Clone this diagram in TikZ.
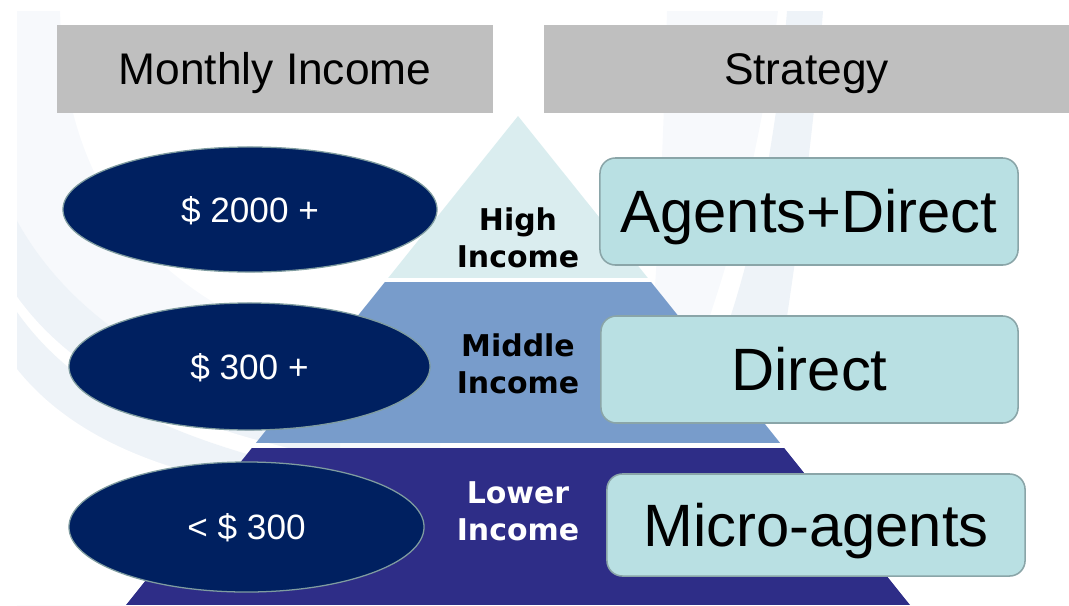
\documentclass[tikz,border=0pt]{standalone}
\usepackage{fontspec}
\setmainfont{Liberation Sans}
\newfontfamily\tierfont{DejaVu Sans}
\usetikzlibrary{shapes.geometric}

\definecolor{headgray}{HTML}{BFBFBF}
\definecolor{ovalnavy}{HTML}{002060}
\definecolor{ovalrim}{HTML}{7F9CA0}
\definecolor{tierhigh}{HTML}{DAEDEF}
\definecolor{tiermid}{HTML}{789CCB}
\definecolor{tierlow}{HTML}{2E2D87}
\definecolor{stratfill}{HTML}{B9E0E3}
\definecolor{stratrim}{HTML}{8AA5A8}
\definecolor{swooshpale}{HTML}{F7F9FC}
\definecolor{swooshband}{HTML}{EEF3F8}

\tikzset{
  headbox/.style={fill=headgray, inner sep=0pt, font=\fontsize{31.5}{36}\selectfont,
    text height=22.5pt, text depth=0pt},
  incomeoval/.style={ellipse, fill=ovalnavy, draw=ovalrim, line width=0.9pt, inner sep=0pt,
    text=white, font=\fontsize{25}{29}\selectfont, text height=17.8pt, text depth=0pt},
  strategybox/.style={rectangle, rounded corners=11pt, fill=stratfill, draw=stratrim,
    line width=1.1pt, inner sep=0pt, font=\fontsize{42.5}{48}\selectfont,
    text height=30.4pt, text depth=0pt},
  tierlabel/.style={align=center, inner sep=0pt, text depth=0pt,
    font=\tierfont\bfseries\fontsize{21.3}{26.3}\selectfont},
}

\begin{document}
\begin{tikzpicture}[x=0.025cm, y=-0.025cm]
    \useasboundingbox (0,0) rectangle (1069,605);

    % faint swooshes behind everything
    \begin{scope}
        \clip (17,11) rectangle (823,605);
        \fill[swooshpale] (0,0) -- (60,0) .. controls (60,250) and (220,340) .. (440,380) -- (440,605) -- (0,605) -- cycle;
        \fill[swooshband] (0,185) .. controls (50,310) and (170,385) .. (340,425) -- (340,605) -- (0,605) -- cycle;
        \fill[white] (0,270) .. controls (50,360) and (150,420) .. (320,455) -- (320,605) -- (0,605) -- cycle;
        \fill[swooshband] (0,285) .. controls (50,375) and (140,430) .. (300,468) -- (300,605) -- (0,605) -- cycle;
        \fill[white] (0,345) .. controls (40,410) and (110,455) .. (220,480) -- (220,605) -- (0,605) -- cycle;
        \fill[swooshpale] (667,11) -- (778,11) .. controls (765,120) and (740,230) .. (705,330)
            -- (652,330) .. controls (660,220) and (664,120) .. (667,11) -- cycle;
        \fill[swooshband] (787,11) -- (823,11) .. controls (815,120) and (800,230) .. (785,330)
            -- (726,330) .. controls (760,230) and (778,120) .. (787,11) -- cycle;
    \end{scope}

    % column headers
    \node[headbox, minimum width=10.9cm, minimum height=2.2cm] (income) at (275,69) {Monthly Income};
    \node[headbox, minimum width=13.125cm, minimum height=2.2cm] (strategy) at (806.5,69) {Strategy};

    % pyramid
    \coordinate (apex) at (518,116);
    \begin{scope}
        \clip (apex) -- (126,605) -- (910,605) -- cycle;
        \fill[tierhigh] (100,116) rectangle (950,278);
        \fill[tiermid] (100,282) rectangle (950,443);
        \fill[tierlow] (100,448) rectangle (950,605);
    \end{scope}
    \node[tierlabel] (high) at (518,238) {High\\Income};
    \node[tierlabel] (middle) at (518,364) {Middle\\Income};
    \node[tierlabel, text=white] (lower) at (518,511) {Lower\\Income};

    % income ovals
    \node[incomeoval, minimum width=9.35cm, minimum height=3.125cm] (ovalhigh) at (250,209.5) {\$ 2000 +};
    \node[incomeoval, minimum width=9.025cm, minimum height=3.175cm] (ovalmid) at (249.5,366.5) {\$ 300 +};
    \node[incomeoval, minimum width=8.875cm, minimum height=3.25cm] (ovallow) at (246.5,527) {< \$ 300};

    % strategy boxes
    \node[strategybox, minimum width=10.45cm, minimum height=2.675cm] (agents) at (809,211.5) {Agents+Direct};
    \node[strategybox, minimum width=10.425cm, minimum height=2.675cm] (direct) at (809.5,369.5) {Direct};
    \node[strategybox, minimum width=10.45cm, minimum height=2.55cm] (micro) at (816,525) {Micro-agents};

\end{tikzpicture}
\end{document}
